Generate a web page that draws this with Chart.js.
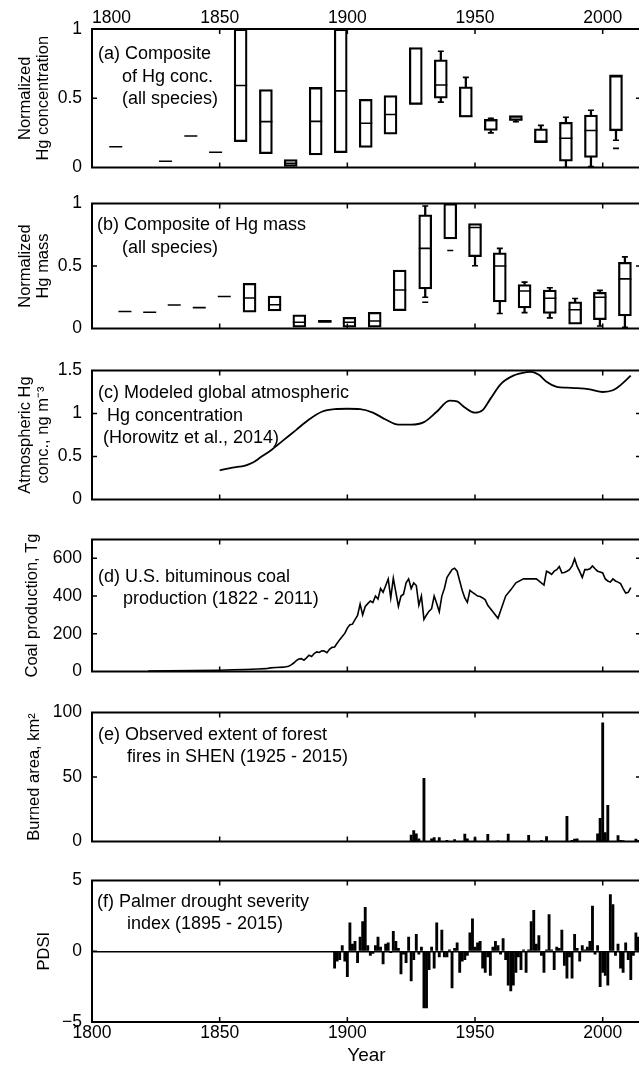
<!DOCTYPE html>
<html>
<head>
<meta charset="utf-8">
<title>Hg records</title>
<script src="https://cdn.jsdelivr.net/npm/chart.js@4.4.1/dist/chart.umd.min.js"></script>
<style>
  html, body { margin: 0; padding: 0; background: #fff; overflow: hidden; }
  body { width: 639px; height: 1069px; position: relative; }
  .panel { position: absolute; left: 0; width: 641px; }
</style>
</head>
<body>
<div class="panel" style="top:0px;height:188px"><canvas id="chartA"></canvas></div>
<div class="panel" style="top:183px;height:166px"><canvas id="chartB"></canvas></div>
<div class="panel" style="top:350px;height:170px"><canvas id="chartC"></canvas></div>
<div class="panel" style="top:519px;height:173px"><canvas id="chartD"></canvas></div>
<div class="panel" style="top:692px;height:170px"><canvas id="chartE"></canvas></div>
<div class="panel" style="top:860px;height:209px"><canvas id="chartF"></canvas></div>
<script>
// x ticks shared by all panels
const xTickYears = [1850, 1900, 1950, 2000];

// (a) composite of Hg concentration (boxes)
const aYears = [1809.3, 1828.8, 1838.7, 1848.4, 1858.2, 1868.1, 1877.8, 1887.6, 1897.4, 1907.2, 1916.9, 1926.8, 1936.6, 1946.4, 1956.2, 1966.0, 1975.8, 1985.6, 1995.4, 2005.2];
const aQ1  = [0.15, 0.045, 0.227, 0.11, 0.186, 0.10, 0.007, 0.09, 0.107, 0.145, 0.24, 0.456, 0.501, 0.363, 0.267, 0.34, 0.18, 0.045, 0.073, 0.265];
const aMed = [0.15, 0.045, 0.227, 0.11, 0.592, 0.331, 0.03, 0.333, 0.553, 0.32, 0.383, 0.46, 0.596, 0.37, 0.34, 0.345, 0.19, 0.211, 0.267, 0.663];
const aQ3  = [0.15, 0.045, 0.227, 0.11, 1.0, 0.562, 0.057, 0.578, 1.0, 0.492, 0.519, 0.866, 0.778, 0.583, 0.347, 0.374, 0.279, 0.327, 0.379, 0.664];
const aLo  = [null, null, null, null, null, null, null, null, null, null, null, null, 0.472, null, 0.25, 0.33, null, 0.0, 0.007, 0.197];
const aHi  = [null, null, null, null, null, null, null, null, null, null, null, null, 0.839, 0.651, 0.356, null, 0.304, 0.363, 0.413, null];
const aOut = [null, null, null, null, null, null, null, null, null, null, null, null, null, null, null, null, null, null, null, 0.138];

// (b) composite of Hg mass (boxes)
const bYears = [1812.9, 1822.6, 1832.2, 1842.0, 1851.8, 1861.7, 1871.5, 1881.2, 1891.2, 1900.8, 1910.7, 1920.5, 1930.5, 1940.3, 1950.0, 1959.7, 1969.4, 1979.3, 1989.2, 1998.9, 2008.7];
const bQ1  = [0.136, 0.13, 0.188, 0.167, 0.256, 0.13, 0.14, 0.01, 0.048, 0.01, 0.01, 0.143, 0.317, 0.716, 0.575, 0.213, 0.164, 0.12, 0.035, 0.07, 0.10];
const bMed = [0.136, 0.13, 0.188, 0.167, 0.256, 0.244, 0.19, 0.05, 0.055, 0.05, 0.06, 0.308, 0.641, null, 0.808, 0.5, 0.30, 0.242, 0.15, 0.25, 0.397];
const bQ3  = [0.136, 0.13, 0.188, 0.167, 0.256, 0.361, 0.26, 0.11, 0.065, 0.09, 0.13, 0.467, 0.91, 1.0, 0.84, 0.606, 0.352, 0.308, 0.213, 0.289, 0.53];
const bLo  = [null, null, null, null, null, null, null, null, null, null, null, null, 0.25, null, 0.502, 0.12, 0.127, 0.085, null, 0.02, 0.01];
const bHi  = [null, null, null, null, null, null, null, null, null, null, null, null, 0.98, null, null, 0.641, 0.371, 0.326, 0.24, 0.305, 0.573];
const bOut = [null, null, null, null, null, null, null, null, null, null, null, null, 0.21, 0.624, null, null, null, null, null, null, null];

// (c) modeled atmospheric Hg, ng m-3
const hgYears = [1850, 1855, 1860, 1863, 1866, 1870, 1875, 1880, 1885, 1890, 1895, 1900, 1905, 1910, 1915, 1920, 1925, 1930, 1935, 1940, 1943, 1946, 1950, 1953, 1956, 1960, 1965, 1970, 1972, 1975, 1978, 1982, 1986, 1990, 1995, 2000, 2004, 2007, 2011];
const hgConc  = [0.34, 0.37, 0.395, 0.43, 0.49, 0.57, 0.69, 0.81, 0.93, 1.02, 1.05, 1.055, 1.05, 1.01, 0.93, 0.87, 0.87, 0.90, 1.02, 1.15, 1.14, 1.07, 1.01, 1.04, 1.17, 1.34, 1.44, 1.48, 1.485, 1.45, 1.37, 1.31, 1.30, 1.295, 1.28, 1.25, 1.27, 1.33, 1.44];

// (d) U.S. bituminous coal production, Tg
const coalYears = [1822, 1830, 1840, 1850, 1855, 1860, 1865, 1868, 1870, 1872, 1875, 1877, 1878, 1879, 1880, 1881, 1882, 1883, 1884, 1885, 1886, 1887, 1888, 1889, 1890, 1891, 1892, 1893, 1894, 1895, 1896, 1897, 1898, 1899,
  1900, 1901, 1902, 1903, 1904, 1905, 1906, 1907, 1908, 1909, 1910, 1911, 1912, 1913, 1914, 1915, 1916, 1917, 1918, 1919, 1920, 1921, 1922, 1923, 1924, 1925, 1926, 1927, 1928, 1929,
  1930, 1931, 1932, 1933, 1934, 1935, 1936, 1937, 1938, 1939, 1940, 1941, 1942, 1943, 1944, 1945, 1946, 1947, 1948, 1949, 1950, 1951, 1952, 1953, 1954, 1955, 1959, 1962, 1964, 1966, 1969,
  1974, 1975, 1977, 1978, 1979, 1980, 1981, 1982, 1983, 1984, 1985, 1986, 1987, 1988, 1989, 1990, 1991, 1992, 1993, 1994, 1995, 1996, 1997, 1998, 1999, 2000, 2001, 2002, 2003, 2004, 2005, 2006, 2007, 2008, 2009, 2010, 2011];
const coalTg = [3, 4, 5, 7, 9, 11, 13, 15, 19, 21, 23, 28, 35, 45, 58, 66, 68, 60, 72, 86, 80, 95, 104, 101, 110, 108, 100, 118, 128, 130, 150, 169, 185, 202,
  230, 248, 251, 275, 297, 358, 300, 345, 360, 374, 366, 400, 384, 440, 420, 455, 491, 390, 495, 420, 345, 400, 410, 470, 491, 440, 470, 456, 351, 400,
  276, 300, 320, 333, 400, 360, 317, 400, 440, 498, 520, 540, 548, 532, 480, 430, 390, 367, 430, 420, 410, 400, 398, 390, 380, 351, 282, 400, 433, 470, 491,
  491, 480, 458, 532, 525, 515, 532, 540, 557, 523, 525, 532, 540, 560, 598, 557, 530, 499, 540, 540, 545, 560, 545, 532, 528, 523, 491, 480, 474, 491, 480, 474, 466, 440, 416, 420, 445];

// (e) burned area in SHEN, km2
const fireYears = [1925, 1926, 1927, 1928, 1930, 1933, 1934, 1936, 1939, 1942, 1946, 1947, 1950, 1955, 1959, 1963, 1971, 1976, 1978, 1986, 1988, 1989, 1990, 1998, 1999, 2000, 2001, 2002, 2006, 2007, 2008, 2013, 2014];
const fireArea  = [5, 8.4, 6, 2, 49, 2, 3, 3, 1, 1.5, 5.7, 2, 3, 5.5, 0.5, 5.7, 4.8, 0.7, 3.9, 19.6, 1, 1.8, 2, 6, 18, 92, 7, 28, 4.5, 1, 0.7, 1.8, 1];

// (f) Palmer drought severity index, one value per year from 1895
const pdsiFirstYear = 1895;
const pdsi = [-1.2, -0.7, -0.6, 0.4, -0.7,
  -1.8, 2.0, 0.5, 0.7, -0.8, 1.0, 2.1, 3.1, 0.4, -0.3,
  -0.15, 0.4, 1.0, 0.3, -0.9, 0.5, 0.6, -0.1, 1.4, 0.7,
  0.2, -1.6, -0.2, -0.8, 1.0, -2.1, -0.6, 1.2, -0.2, 0.3,
  -4.0, -4.0, -1.3, 0.3, -1.2, 2.0, -0.4, 1.5, -0.4, -0.4,
  0.1, -2.6, 0.2, 0.6, -1.5, -0.7, -0.6, -0.3, 1.3, 2.3,
  0.3, 0.6, 0.7, -1.2, -1.5, -0.4, -1.7, 0.3, 0.7, 0.4,
  -0.2, 0.9, -0.6, -2.4, -2.8, -2.4, -1.5, -0.4, -1.3, 0.1,
  -1.5, 0.1, 2.1, 2.9, 0.5, 1.1, -0.3, -1.5, 0.1, 2.6,
  0.1, -1.3, 0.3, 0.2, 1.5, -1.0, -1.9, -0.4, -1.9, 1.2,
  0.2, -0.7, 0.4, 0.1, 0.3, 0.7, 3.2, -0.2, 0.4, -2.5,
  -1.5, -1.7, -2.4, 4.0, 3.3, -0.3, 0.5, -1.2, -1.5, 0.6,
  -0.6, -2.0, -0.3, 1.3, 1.0, 0.5];

Chart.defaults.font.family = "'Liberation Sans', Arial, Helvetica, sans-serif";
Chart.defaults.color = '#000';
Chart.defaults.animation = false;
Chart.defaults.events = [];
Chart.defaults.plugins.legend.display = false;
Chart.defaults.plugins.tooltip.enabled = false;

// frame box with inward tick marks
const frameTicks = {
  id: 'frameTicks',
  afterDatasetsDraw(chart) {
    const {ctx, chartArea: a, scales} = chart;
    ctx.save();
    ctx.strokeStyle = '#000';
    ctx.lineWidth = 1.5;
    ctx.beginPath();
    xTickYears.forEach(v => {
      const px = scales.x.getPixelForValue(v);
      ctx.moveTo(px, a.top); ctx.lineTo(px, a.top + 5);
      ctx.moveTo(px, a.bottom); ctx.lineTo(px, a.bottom - 5);
    });
    scales.y.ticks.forEach(t => {
      const py = scales.y.getPixelForValue(t.value);
      if (py <= a.top + 1 || py >= a.bottom - 1) return;
      ctx.moveTo(a.left, py); ctx.lineTo(a.left + 5, py);
      ctx.moveTo(a.right, py); ctx.lineTo(a.right - 5, py);
    });
    ctx.stroke();
    ctx.lineWidth = 2;
    ctx.strokeRect(a.left, a.top, a.width, a.height);
    ctx.restore();
  }
};

// panel captions inside the plot
const panelText = {
  id: 'panelText',
  afterDraw(chart, args, opts) {
    const {ctx, chartArea: a} = chart;
    ctx.save();
    ctx.fillStyle = '#000';
    ctx.font = "18px 'Liberation Sans', Arial, sans-serif";
    ctx.textBaseline = 'middle';
    ctx.textAlign = 'left';
    (opts.lines || []).forEach(l => ctx.fillText(l[0], a.left + l[1], a.top + l[2]));
    ctx.restore();
  }
};
Chart.register(frameTicks, panelText);

function xAxis(mode) {
  const shown = mode !== 'none';
  return {
    type: 'linear', position: mode === 'top' ? 'top' : 'bottom',
    min: 1800, max: 2015, offset: false, display: shown,
    grid: {display: false, drawTicks: false, offset: false},
    border: {display: false},
    ticks: {
      stepSize: 50, includeBounds: false, maxRotation: 0, autoSkip: false,
      padding: mode === 'top' ? 0 : 1, font: {size: 17.5},
      callback: v => (mode === 'top' && v === 1800) ? '        1800' : String(v)
    },
    title: {display: mode === 'bottom', text: 'Year', font: {size: 19}, padding: {top: 0, bottom: 2}},
    afterFit: s => { if (mode === 'top') s.height = 29; if (mode === 'bottom') s.height = 47; }
  };
}

function yAxis(min, max, step, title, titlePad, zeroLine) {
  return {
    min: min, max: max,
    grid: {display: !!zeroLine, drawTicks: false, lineWidth: 1.5,
      color: c => (c.tick && c.tick.value === 0) ? '#000' : 'rgba(0,0,0,0)'},
    border: {display: false},
    ticks: {stepSize: step, includeBounds: false, padding: 10, font: {size: 17.5},
      callback: v => v < 0 ? '\u2212' + Math.abs(v) : String(v)},
    title: {display: true, text: title, font: {size: 16.5, lineHeight: 1.1}, padding: {top: titlePad, bottom: 0}},
    afterFit: s => { s.width = 92; }
  };
}

function boxDatasets(years, q1, med, q3, lo, hi, out) {
  const boxes = [], whiskers = [], meds = [], caps = [];
  years.forEach((yr, i) => {
    if (q3[i] > q1[i]) boxes.push({x: yr, y: [q1[i], q3[i]]});
    if (med[i] !== null) meds.push({x: yr, y: med[i]});
    if (hi[i] !== null) { whiskers.push({x: yr, y: [q3[i], hi[i]]}); caps.push({x: yr, y: hi[i]}); }
    if (lo[i] !== null) { whiskers.push({x: yr, y: [lo[i], q1[i]]}); caps.push({x: yr, y: lo[i]}); }
    if (out[i] !== null) caps.push({x: yr, y: out[i]});
  });
  return [
    {type: 'bar', data: boxes, backgroundColor: 'rgba(255,255,255,0)', borderColor: '#000',
      borderWidth: 1.6, borderSkipped: false, barThickness: 13, grouped: false},
    {type: 'bar', data: whiskers, backgroundColor: '#000', borderWidth: 0, barThickness: 1.6, grouped: false},
    {type: 'scatter', data: meds, pointStyle: 'line', pointRadius: 6.5, pointBorderWidth: 1.6, pointBorderColor: '#000'},
    {type: 'scatter', data: caps, pointStyle: 'line', pointRadius: 3, pointBorderWidth: 1.6, pointBorderColor: '#000'}
  ];
}

function baseOptions(padTop, padBottom, xMode, y, lines) {
  return {
    responsive: true, maintainAspectRatio: false, devicePixelRatio: 1,
    layout: {autoPadding: false, padding: {top: padTop, bottom: padBottom, left: 0, right: 0}},
    scales: {x: xAxis(xMode), y: y},
    plugins: {panelText: {lines: lines}}
  };
}

// Panel (a)
let chartA = new Chart(document.getElementById('chartA'), {
  type: 'bar',
  data: {datasets: boxDatasets(aYears, aQ1, aMed, aQ3, aLo, aHi, aOut)},
  options: baseOptions(0, 12, 'top', yAxis(0, 1, 0.5, ['Normalized', 'Hg concentration'], 16),
    [['(a) Composite', 6, 25], ['of Hg conc.', 30, 48], ['(all species)', 30, 70]])
});

// Panel (b)
let chartB = new Chart(document.getElementById('chartB'), {
  type: 'bar',
  data: {datasets: boxDatasets(bYears, bQ1, bMed, bQ3, bLo, bHi, bOut)},
  options: baseOptions(12, 12, 'none', yAxis(0, 1, 0.5, ['Normalized', 'Hg mass'], 16),
    [['(b) Composite of Hg mass', 5, 22], ['(all species)', 30, 45]])
});

// Panel (c)
let chartC = new Chart(document.getElementById('chartC'), {
  type: 'line',
  data: {datasets: [{
    data: hgYears.map((yr, i) => ({x: yr, y: hgConc[i]})),
    borderColor: '#000', borderWidth: 1.8, pointRadius: 0, cubicInterpolationMode: 'monotone', fill: false
  }]},
  options: baseOptions(12, 12, 'none', yAxis(0, 1.5, 0.5, ['Atmospheric Hg', 'conc., ng m\u207B\u00B3'], 16),
    [['(c) Modeled global atmospheric', 6, 23], ['Hg concentration', 15, 45.5], ['(Horowitz et al., 2014)', 11, 68]])
});

// Panel (d)
let chartD = new Chart(document.getElementById('chartD'), {
  type: 'line',
  data: {datasets: [{
    data: coalYears.map((yr, i) => ({x: yr, y: coalTg[i]})),
    borderColor: '#000', borderWidth: 1.6, pointRadius: 0, tension: 0, fill: false
  }]},
  options: baseOptions(12, 12, 'none', yAxis(0, 700, 200, 'Coal production, Tg', 23),
    [['(d) U.S. bituminous coal', 6, 38], ['production (1822 - 2011)', 31, 60]])
});

// Panel (e)
let chartE = new Chart(document.getElementById('chartE'), {
  type: 'bar',
  data: {datasets: [{
    data: fireYears.map((yr, i) => ({x: yr, y: fireArea[i]})),
    backgroundColor: '#000', barThickness: 2.2, grouped: false
  }]},
  options: baseOptions(12, 12, 'none', yAxis(0, 100, 50, 'Burned area, km\u00B2', 25),
    [['(e) Observed extent of forest', 6, 23], ['fires in SHEN (1925 - 2015)', 35, 45]])
});

// Panel (f)
let chartF = new Chart(document.getElementById('chartF'), {
  type: 'bar',
  data: {datasets: [{
    data: pdsi.map((v, i) => ({x: pdsiFirstYear + i, y: v})),
    backgroundColor: '#000', barThickness: 2.2, grouped: false
  }]},
  options: baseOptions(12, 0, 'bottom', yAxis(-5, 5, 5, 'PDSI', 35, true),
    [['(f) Palmer drought severity', 5, 22], ['index (1895 - 2015)', 35, 44]])
});
</script>
</body>
</html>
